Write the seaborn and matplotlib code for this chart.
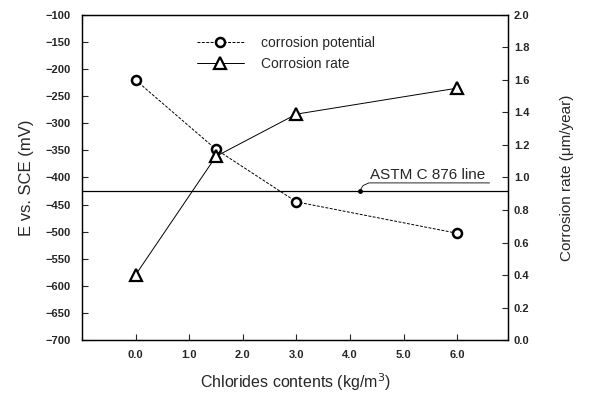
import matplotlib
matplotlib.use("Agg")
import matplotlib.pyplot as plt
import seaborn as sns
import pandas as pd
from matplotlib.lines import Line2D

chlorides = [0.0, 1.5, 3.0, 6.0]
potential = [-220, -348, -445, -503]
rate = [0.40, 1.13, 1.39, 1.55]
astm_line = -425
x_ticks = [0, 1, 2, 3, 4, 5, 6]
x_labels = ["0.0", "1.0", "2.0", "3.0", "4.0", "5.0", "6.0"]
left_ticks = list(range(-700, -99, 50))
right_ticks = [0.0, 0.2, 0.4, 0.6, 0.8, 1.0, 1.2, 1.4, 1.6, 1.8, 2.0]

sns.set_style("ticks")
plt.rcParams["font.family"] = ["Liberation Sans", "DejaVu Sans"]

fig = plt.figure(figsize=(5.89, 3.94), dpi=100)
ax = fig.add_axes([0.139, 0.137, 0.724, 0.825])
ax2 = ax.twinx()

df = pd.DataFrame({"x": chlorides, "pot": potential, "rate": rate})

sns.lineplot(data=df, x="x", y="pot", ax=ax, color="black", lw=0.7,
             linestyle=(0, (3, 1.5)), marker="o", markersize=6.5,
             mfc="white", mec="black", mew=1.8)
sns.lineplot(data=df, x="x", y="rate", ax=ax2, color="black", lw=0.7,
             marker="^", markersize=8, mfc="white", mec="black", mew=1.6)

ax.axhline(astm_line, color="black", lw=0.9)
ax.plot([4.18], [astm_line], marker="o", markersize=2.5, color="black")
ax.plot([4.18, 4.24, 4.35, 6.6], [astm_line, -415, -410, -410], color="black", lw=0.6)
ax.text(4.38, -402, "ASTM C 876 line", fontsize=11, ha="left", va="baseline")

ax.set_xlim(-1.0, 6.95)
ax.set_ylim(-700, -100)
ax2.set_ylim(0, 2.0)
ax.set_xticks(x_ticks)
ax.set_xticklabels(x_labels)
ax.set_yticks(left_ticks)
ax2.set_yticks(right_ticks)
ax2.set_yticklabels([f"{v:.1f}" for v in right_ticks])

for a in (ax, ax2):
    a.tick_params(direction="in", length=4, width=0.8, labelsize=8)
    for lab in a.get_xticklabels() + a.get_yticklabels():
        lab.set_fontweight("bold")
    for s in a.spines.values():
        s.set_linewidth(0.9)
        s.set_color("black")
ax.tick_params(axis="x", pad=7)
ax.tick_params(axis="y", pad=8)
ax2.tick_params(axis="y", pad=4)

ax.set_xlabel("Chlorides contents (kg/m$^3$)", fontsize=11.5, labelpad=8)
ax.set_ylabel("E vs. SCE (mV)", fontsize=12, labelpad=8)
ax2.set_ylabel("Corrosion rate (\u03bcm/year)", fontsize=11, labelpad=22)

handles = [
    Line2D([], [], color="black", lw=0.7, linestyle=(0, (3, 1.5)), marker="o",
           markersize=6.5, mfc="white", mec="black", mew=1.8),
    Line2D([], [], color="black", lw=0.7, marker="^", markersize=8,
           mfc="white", mec="black", mew=1.6),
]
ax2.legend(handles, ["corrosion potential", "Corrosion rate"], frameon=False,
           loc="upper left", bbox_to_anchor=(0.24, 0.975), fontsize=10,
           handlelength=3.4, labelspacing=0.55, handletextpad=1.2)

fig.savefig("out.png", dpi=100)
